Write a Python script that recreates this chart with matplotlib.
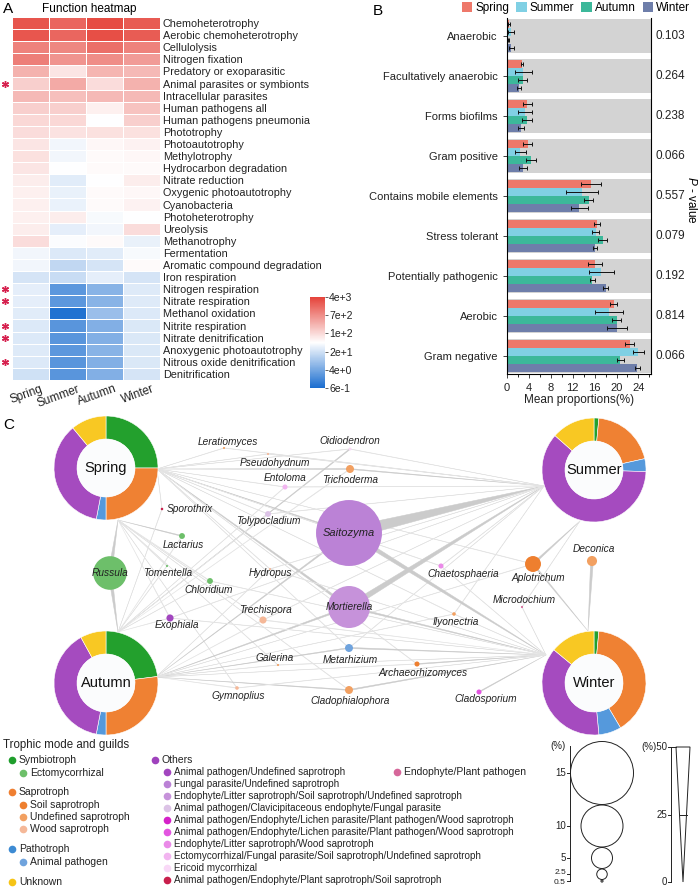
import numpy as np
import matplotlib
matplotlib.use('Agg')
import matplotlib.pyplot as plt
from matplotlib.colors import LinearSegmentedColormap, LogNorm
from matplotlib.cm import ScalarMappable
from matplotlib.patches import Wedge, Circle, Polygon, Patch
from matplotlib.ticker import MultipleLocator, NullLocator
import matplotlib.transforms as mtrans

plt.rcParams['font.family'] = ['Liberation Sans', 'DejaVu Sans']
plt.rcParams['mathtext.fontset'] = 'custom'
plt.rcParams['mathtext.it'] = 'Liberation Sans:italic'
plt.rcParams['mathtext.rm'] = 'Liberation Sans'

# ----------------------------- DATA -----------------------------
seasons = ['Spring', 'Summer', 'Autumn', 'Winter']

functions = ['Chemoheterotrophy', 'Aerobic chemoheterotrophy', 'Cellulolysis', 'Nitrogen fixation',
             'Predatory or exoparasitic', 'Animal parasites or symbionts', 'Intracellular parasites',
             'Human pathogens all', 'Human pathogens pneumonia', 'Phototrophy', 'Photoautotrophy',
             'Methylotrophy', 'Hydrocarbon degradation', 'Nitrate reduction', 'Oxygenic photoautotrophy',
             'Cyanobacteria', 'Photoheterotrophy', 'Ureolysis', 'Methanotrophy', 'Fermentation',
             'Aromatic compound degradation', 'Iron respiration', 'Nitrogen respiration',
             'Nitrate respiration', 'Methanol oxidation', 'Nitrite respiration', 'Nitrate denitrification',
             'Anoxygenic photoautotrophy', 'Nitrous oxide denitrification', 'Denitrification']
heat_spring = [2600, 2500, 900, 1000, 300, 150, 250, 150, 120, 110, 90, 100, 90, 75, 70, 70, 70, 75, 110,
               38, 38, 22, 30, 30, 28, 25, 25, 26, 25, 20]
heat_summer = [1800, 1700, 800, 600, 90, 350, 220, 150, 120, 95, 38, 38, 48, 28, 32, 33, 75, 30, 45,
               25, 15, 17, 2.2, 2.2, 0.7, 2.0, 2.0, 2.2, 2.0, 2.0]
heat_autumn = [3200, 3000, 1400, 700, 280, 110, 250, 70, 48, 100, 60, 55, 55, 48, 55, 55, 42, 38, 55,
               28, 22, 30, 5, 5, 7, 4.5, 4.5, 5, 4.5, 4.5]
heat_winter = [2300, 2200, 900, 500, 250, 300, 250, 200, 150, 100, 65, 60, 55, 75, 60, 65, 48, 110, 32,
               42, 55, 22, 26, 26, 25, 24, 24, 24, 24, 22]
sig_functions = ['Animal parasites or symbionts', 'Nitrogen respiration', 'Nitrate respiration',
                 'Nitrite respiration', 'Nitrate denitrification', 'Nitrous oxide denitrification']
cbar_ticks = [4000, 693, 119, 20.4, 3.5, 0.6]
cbar_ticklabels = ['4e+3', '7e+2', '1e+2', '2e+1', '4e+0', '6e-1']

phenotypes = ['Anaerobic', 'Facultatively anaerobic', 'Forms biofilms', 'Gram positive',
              'Contains mobile elements', 'Stress tolerant', 'Potentially pathogenic', 'Aerobic',
              'Gram negative']
pheno_spring = [0.3, 2.8, 3.7, 3.8, 15.3, 16.4, 16.1, 19.5, 22.4]
pheno_spring_err = [0.2, 0.2, 0.8, 0.8, 1.8, 0.5, 1.3, 0.6, 0.8]
pheno_summer = [0.7, 3.0, 3.3, 2.4, 13.7, 16.2, 17.2, 18.6, 24.0]
pheno_summer_err = [0.5, 1.6, 1.3, 1.0, 3.0, 0.6, 2.3, 2.5, 1.0]
pheno_autumn = [0.2, 2.9, 3.6, 4.4, 14.9, 17.5, 15.6, 20.0, 20.7]
pheno_autumn_err = [0.1, 0.8, 0.9, 0.9, 0.8, 0.8, 0.5, 0.8, 0.6]
pheno_winter = [0.8, 2.2, 2.6, 2.9, 13.2, 16.1, 18.0, 20.1, 23.8]
pheno_winter_err = [0.5, 0.4, 0.5, 0.7, 1.6, 0.4, 0.4, 1.8, 0.4]
p_values = ['0.103', '0.264', '0.238', '0.066', '0.557', '0.079', '0.192', '0.814', '0.066']

trophic_modes = ['Symbiotroph', 'Saprotroph', 'Pathotroph', 'Others', 'Unknown']
comp_spring = [25, 25, 3, 36, 11]
comp_summer = [1.5, 20, 4, 61, 13.5]
comp_autumn = [23, 27, 3, 39, 8]
comp_winter = [1.5, 40, 7, 37.5, 14]

genera = ['Saitozyma', 'Mortierella', 'Russula', 'Aplotrichum', 'Deconica', 'Trichoderma', 'Metarhizium',
          'Cladophialophora', 'Trechispora', 'Exophiala', 'Lactarius', 'Chloridium', 'Tolypocladium',
          'Entoloma', 'Chaetosphaeria', 'Archaeorhizomyces', 'Cladosporium', 'Ilyonectria', 'Gymnoplius',
          'Oidiodendron', 'Sporothrix', 'Leratiomyces', 'Pseudohydnum', 'Tomentella', 'Hydropus',
          'Galerina', 'Microdochium']
genus_abund = [15.7, 10.0, 8.0, 3.8, 2.4, 1.9, 1.9, 1.9, 1.7, 1.7, 1.4, 1.4, 1.4, 1.2, 1.2, 1.2, 1.2,
               0.85, 0.85, 0.7, 0.6, 0.5, 0.5, 0.5, 0.5, 0.5, 0.5]
genus_guild = ['FP/US', 'E/LS/SS/US', 'ECM', 'SS', 'US', 'US', 'AP', 'US', 'WS', 'AP/US', 'ECM', 'ECM',
               'AP/CE/FP', 'ECM/FP/SS/US', 'E/LS/WS', 'SS', 'AP/E/LP/PP/WS2', 'US', 'WS', 'EricM',
               'AP/E/PS/SS', 'US', 'WS', 'ECM', 'WS', 'US', 'E/PP']

edge_season = (['Spring'] * 24 + ['Autumn'] * 21 + ['Summer'] * 16 + ['Winter'] * 17)
edge_genus = ['Russula', 'Mortierella', 'Saitozyma', 'Trichoderma', 'Entoloma', 'Leratiomyces',
              'Pseudohydnum', 'Oidiodendron', 'Sporothrix', 'Tolypocladium', 'Lactarius', 'Tomentella',
              'Chloridium', 'Exophiala', 'Hydropus', 'Trechispora', 'Galerina', 'Metarhizium',
              'Cladophialophora', 'Archaeorhizomyces', 'Aplotrichum', 'Chaetosphaeria', 'Ilyonectria',
              'Gymnoplius',
              'Russula', 'Oidiodendron', 'Trichoderma', 'Saitozyma', 'Mortierella', 'Exophiala',
              'Chloridium', 'Tomentella', 'Lactarius', 'Trechispora', 'Galerina', 'Gymnoplius',
              'Metarhizium', 'Cladophialophora', 'Tolypocladium', 'Hydropus', 'Archaeorhizomyces',
              'Ilyonectria', 'Sporothrix', 'Aplotrichum', 'Entoloma',
              'Saitozyma', 'Mortierella', 'Trichoderma', 'Oidiodendron', 'Aplotrichum', 'Chaetosphaeria',
              'Ilyonectria', 'Microdochium', 'Entoloma', 'Pseudohydnum', 'Leratiomyces', 'Tolypocladium',
              'Hydropus', 'Trechispora', 'Metarhizium', 'Exophiala',
              'Saitozyma', 'Mortierella', 'Aplotrichum', 'Deconica', 'Metarhizium', 'Cladophialophora',
              'Archaeorhizomyces', 'Cladosporium', 'Ilyonectria', 'Microdochium', 'Chaetosphaeria',
              'Trechispora', 'Exophiala', 'Galerina', 'Gymnoplius', 'Hydropus', 'Chloridium']
edge_weight = [14, 8, 4, 3, 1.5, 1, 1, 1, 1, 1.5, 3, 2, 2, 2, 1, 1.5, 1, 1.5, 1.5, 1, 1, 1, 1, 1,
               14, 3, 2, 5, 6, 2, 1.5, 1.5, 2, 2, 1.5, 2, 3, 3, 1.5, 1, 1, 1, 1, 1, 1,
               43, 20, 3, 1.5, 7, 1.5, 1, 1, 1, 1, 1, 1, 1, 1, 1, 1,
               16, 6, 5, 10, 4, 4, 3, 3, 1.5, 1.5, 1.5, 2, 1, 1, 1, 1, 1]

size_legend_values = [15, 10, 5, 2.5, 0.5]
size_legend_labels = ['15', '10', '5', '2.5', '0.5']
width_legend_labels = ['(%)50', '25', '0']

# ----------------------------- STYLE / LAYOUT -----------------------------
W, H = 700, 890
fig = plt.figure(figsize=(7, 8.9), dpi=100)


def fbox(x0, y0, x1, y1):
    return [x0 / W, 1 - y1 / H, (x1 - x0) / W, (y1 - y0) / H]


season_colors = ['#ee786a', '#80d0e4', '#3cb89a', '#6e7eaa']
donut_colors = ['#23a02d', '#ef8133', '#5599dc', '#a54bbf', '#f8c823']
guild_color = {
    'ECM': '#6dbf6a', 'SS': '#ee7f2f', 'US': '#f2a061', 'WS': '#f5b898', 'AP': '#6fa3dd',
    'AP/US': '#a246bf', 'FP/US': '#bb82d6', 'E/LS/SS/US': '#c692da', 'AP/CE/FP': '#dcc3e6',
    'AP/E/LP/PP/WS1': '#d521c9', 'AP/E/LP/PP/WS2': '#e255e0', 'E/LS/WS': '#ea8ae8',
    'ECM/FP/SS/US': '#f2b5f0', 'EricM': '#f9d9f7', 'AP/E/PS/SS': '#c81f4c', 'E/PP': '#d6679a',
}

# ------------------ background pixel-space axes (panel C) ------------------
axc = fig.add_axes([0, 0, 1, 1])
axc.set_xlim(0, W)
axc.set_ylim(H, 0)
axc.axis('off')

axc.text(3, 9, 'A', fontsize=11, va='center', ha='left')
axc.text(42, 9, 'Function heatmap', fontsize=8.5, va='center', ha='left')
axc.text(373, 11, 'B', fontsize=11, va='center', ha='left')
axc.text(3, 425, 'C', fontsize=11, va='center', ha='left')

# ----------------------------- Panel A -----------------------------
cmap = LinearSegmentedColormap.from_list('bwr_c', ['#1a6dcf', '#ffffff', '#e5433a'])
norm = LogNorm(vmin=0.6, vmax=4000)
axA = fig.add_axes(fbox(12, 17, 160, 380))
vals = np.array([heat_spring, heat_summer, heat_autumn, heat_winter], float).T
axA.pcolormesh(vals, cmap=cmap, norm=norm, edgecolors='white', linewidth=0.7)
nf = len(functions)
axA.set_xlim(0, 4)
axA.set_ylim(nf, 0)
axA.set_yticks(np.arange(nf) + 0.5)
axA.set_yticklabels(functions, fontsize=7.8, color='#222222')
axA.yaxis.tick_right()
axA.tick_params(axis='y', length=0, pad=2)
axA.set_xticks([])
for s in axA.spines.values():
    s.set_visible(False)
for i, s in enumerate(seasons):
    axA.text(i + 0.77, nf + 0.25, s, rotation=20, ha='right', va='top', rotation_mode='anchor',
             fontsize=8.5, color='#222222')
trA = mtrans.blended_transform_factory(axA.transAxes, axA.transData)
for f in sig_functions:
    k = functions.index(f)
    axA.plot([-0.05], [k + 0.5], marker=(6, 2, 0), color='#d6204e', ms=5, mew=1.0,
             transform=trA, clip_on=False, linestyle='none')

cax = fig.add_axes(fbox(310, 297, 325, 388))
cb = fig.colorbar(ScalarMappable(norm=norm, cmap=cmap), cax=cax)
cb.set_ticks(cbar_ticks)
cb.set_ticklabels(cbar_ticklabels)
cax.yaxis.set_minor_locator(NullLocator())
cb.outline.set_visible(False)
cax.tick_params(labelsize=7.5, length=2, width=0.5, pad=1, colors='#222222')

# ----------------------------- Panel B -----------------------------
axB = fig.add_axes(fbox(507, 18, 651, 374))
n = len(phenotypes)
ypos = np.arange(n)
xmax = 26.3
axB.barh(ypos, xmax, height=0.85, color='#d3d3d3', zorder=0)
series = [(pheno_spring, pheno_spring_err), (pheno_summer, pheno_summer_err),
          (pheno_autumn, pheno_autumn_err), (pheno_winter, pheno_winter_err)]
offsets = [-0.3, -0.1, 0.1, 0.3]
for j, (v, e) in enumerate(series):
    axB.barh(ypos + offsets[j], v, height=0.2, color=season_colors[j], zorder=2)
    axB.errorbar(v, ypos + offsets[j], xerr=e, fmt='none', ecolor='#111111', elinewidth=0.7,
                 capsize=1.5, capthick=0.7, zorder=3)
axB.set_xlim(0, xmax)
axB.set_ylim(n - 1 + 0.45, -0.45)
axB.set_yticks(ypos)
axB.set_yticklabels(phenotypes, fontsize=8, color='#222222')
axB.set_xticks(np.arange(0, 25, 4))
axB.xaxis.set_minor_locator(MultipleLocator(2))
axB.tick_params(axis='both', labelsize=8, length=3, width=0.6, colors='#222222')
axB.tick_params(axis='x', which='minor', length=2, width=0.6)
axB.set_xlabel('Mean proportions(%)', fontsize=8.5, labelpad=1, color='#222222')
axB.spines['top'].set_visible(False)
for k in ['left', 'bottom', 'right']:
    axB.spines[k].set_linewidth(0.8)
trB = mtrans.blended_transform_factory(axB.transAxes, axB.transData)
for i, p in enumerate(p_values):
    axB.text(1.03, i, p, transform=trB, va='center', ha='left', fontsize=8.5, color='#222222')
fig.text(691 / W, 1 - 200 / H, r'$P$ - value', rotation=270, va='center', ha='center', fontsize=8.5)
handles = [Patch(facecolor=c, edgecolor='none') for c in season_colors]
fig.legend(handles, seasons, loc='center', bbox_to_anchor=(576 / W, 1 - 8 / H), ncol=4, frameon=False,
           fontsize=8.5, handlelength=0.9, handleheight=0.9, handletextpad=0.25, columnspacing=0.6,
           borderaxespad=0, borderpad=0)

# ----------------------------- Panel C -----------------------------
R_OUT, R_IN = 52, 29
R_SCALE = 2.1          # node radius (px) per % abundance
W_SCALE = 14 / 50      # edge width (px) per %
season_center = {'Spring': (106, 468), 'Summer': (594, 470), 'Autumn': (106, 683), 'Winter': (594, 683)}
season_anchor = {'Spring': [(157, 469), (118, 520)], 'Summer': [(544, 486), (580, 521)],
                 'Autumn': [(156, 677), (118, 632)], 'Winter': [(546, 655), (588, 631)]}
node_pos = {'Leratiomyces': (224, 448), 'Pseudohydnum': (268, 454), 'Entoloma': (285, 487),
            'Oidiodendron': (350, 449), 'Trichoderma': (350, 469), 'Sporothrix': (162, 509),
            'Tolypocladium': (268, 514), 'Saitozyma': (349, 533), 'Lactarius': (182, 536),
            'Russula': (110, 573), 'Tomentella': (167, 566), 'Chloridium': (210, 581),
            'Hydropus': (270, 569), 'Mortierella': (349, 607), 'Trechispora': (263, 620),
            'Exophiala': (170, 618), 'Galerina': (278, 665), 'Metarhizium': (349, 648),
            'Gymnoplius': (237, 688), 'Cladophialophora': (349, 690), 'Chaetosphaeria': (441, 566),
            'Aplotrichum': (533, 564), 'Deconica': (592, 561), 'Microdochium': (522, 607),
            'Ilyonectria': (454, 614), 'Archaeorhizomyces': (417, 664), 'Cladosporium': (479, 692)}
label_pos = {'Leratiomyces': (228, 442), 'Pseudohydnum': (275, 463), 'Entoloma': (285, 478),
             'Oidiodendron': (350, 441), 'Trichoderma': (350, 480), 'Sporothrix': (190, 509),
             'Tolypocladium': (268, 521), 'Lactarius': (183, 545), 'Tomentella': (168, 573),
             'Chloridium': (209, 590), 'Hydropus': (270, 573), 'Trechispora': (265, 610),
             'Exophiala': (177, 625), 'Galerina': (275, 658), 'Gymnoplius': (238, 696),
             'Metarhizium': (350, 660), 'Cladophialophora': (350, 701), 'Chaetosphaeria': (463, 574),
             'Aplotrichum': (538, 578), 'Deconica': (594, 549), 'Microdochium': (524, 600),
             'Ilyonectria': (456, 622), 'Archaeorhizomyces': (423, 673), 'Cladosporium': (486, 699),
             'Saitozyma': (349, 533), 'Mortierella': (349, 607), 'Russula': (110, 573)}

# edges (tapered: wide at genus, pointed at season)
for s, g, w in zip(edge_season, edge_genus, edge_weight):
    p0 = np.array(node_pos[g], float)
    anchors = [np.array(a, float) for a in season_anchor[s]]
    p1 = min(anchors, key=lambda a: np.hypot(*(a - p0)))
    d = p1 - p0
    nrm = np.array([-d[1], d[0]]) / np.hypot(*d)
    wpx = max(W_SCALE * w, 0.4)
    heavy = w >= 3
    poly = Polygon([p0 + nrm * wpx / 2, p0 - nrm * wpx / 2, p1], closed=True,
                   facecolor='#cbcbcb' if heavy else '#e2e2e2',
                   edgecolor='#cbcbcb' if heavy else '#e4e4e4', lw=0.35, zorder=1)
    axc.add_patch(poly)

# genus nodes
for g, a, gd in zip(genera, genus_abund, genus_guild):
    x, y = node_pos[g]
    axc.add_patch(Circle((x, y), R_SCALE * a, facecolor=guild_color[gd], edgecolor='none', zorder=3))
for g in genera:
    x, y = label_pos[g]
    fs = 8 if g == 'Saitozyma' else 7.3
    axc.text(x, y, g, ha='center', va='center', fontsize=fs, style='italic', color='#222222', zorder=6)

# donuts
comps = {'Spring': comp_spring, 'Summer': comp_summer, 'Autumn': comp_autumn, 'Winter': comp_winter}
for s in seasons:
    cx, cy = season_center[s]
    fr = comps[s]
    tot = float(sum(fr))
    start = -90.0
    for f, c in zip(fr, donut_colors):
        ang = 360.0 * f / tot
        axc.add_patch(Wedge((cx, cy), R_OUT, start, start + ang, width=R_OUT - R_IN, facecolor=c,
                            edgecolor='white', lw=0.4, zorder=5))
        start += ang
    axc.add_patch(Circle((cx, cy), R_IN, facecolor='#fbfcfd', edgecolor='none', zorder=5))
    axc.text(cx, cy, s, ha='center', va='center', fontsize=10.5, zorder=6, color='#111111')

# ----------------------------- Legends (bottom) -----------------------------
axc.text(3, 745, 'Trophic mode and guilds', fontsize=8.3, va='center', ha='left', color='#222222')
left_items = [('Symbiotroph', '#1f9e2c', 12, 760), ('Ectomycorrhizal', guild_color['ECM'], 23, 773),
              ('Saprotroph', '#ef7f31', 12, 792), ('Soil saprotroph', guild_color['SS'], 23, 805),
              ('Undefined saprotroph', guild_color['US'], 23, 817),
              ('Wood saprotroph', guild_color['WS'], 23, 829),
              ('Pathotroph', '#3d8bd3', 12, 849), ('Animal pathogen', guild_color['AP'], 23, 862),
              ('Unknown', '#f6c416', 12, 882), ('Others', '#9f42bd', 155, 760),
              ('Endophyte/Plant pathogen', guild_color['E/PP'], 397, 772)]
for lab, col, x, y in left_items:
    axc.plot([x], [y], 'o', color=col, ms=5.5, mec='none')
    axc.text(x + 7, y, lab, fontsize=7.5, va='center', ha='left', color='#222222')
others_items = [('Animal pathogen/Undefined saprotroph', 'AP/US'),
                ('Fungal parasite/Undefined saprotroph', 'FP/US'),
                ('Endophyte/Litter saprotroph/Soil saprotroph/Undefined saprotroph', 'E/LS/SS/US'),
                ('Animal pathogen/Clavicipitaceous endophyte/Fungal parasite', 'AP/CE/FP'),
                ('Animal pathogen/Endophyte/Lichen parasite/Plant pathogen/Wood saprotroph', 'AP/E/LP/PP/WS1'),
                ('Animal pathogen/Endophyte/Lichen parasite/Plant pathogen/Wood saprotroph', 'AP/E/LP/PP/WS2'),
                ('Endophyte/Litter saprotroph/Wood saprotroph', 'E/LS/WS'),
                ('Ectomycorrhizal/Fungal parasite/Soil saprotroph/Undefined saprotroph', 'ECM/FP/SS/US'),
                ('Ericoid mycorrhizal', 'EricM'),
                ('Animal pathogen/Endophyte/Plant saprotroph/Soil saprotroph', 'AP/E/PS/SS')]
for k, (lab, key) in enumerate(others_items):
    y = 772 + 12 * k
    axc.plot([167], [y], 'o', color=guild_color[key], ms=5.5, mec='none')
    axc.text(174, y, lab, fontsize=7.1, va='center', ha='left', color='#222222')

# node-size legend
ax_x = 570
circ_cx = 602
y_cursor = 741.5
centers = []
for v in size_legend_values:
    r = R_SCALE * v
    cy = y_cursor + r
    centers.append(cy)
    axc.add_patch(Circle((circ_cx, cy), r, facecolor='none', edgecolor='#222222', lw=0.7))
    y_cursor = cy + r + 0.5
axc.plot([ax_x, ax_x], [746, centers[-1]], color='#222222', lw=0.7)
label_nudge = [0, 0, 0, -1.5, 1.5]
for cy, lab, dy in zip(centers, size_legend_labels, label_nudge):
    axc.plot([ax_x - 3, ax_x], [cy, cy], color='#222222', lw=0.7)
    fs = 7 if dy == 0 else 6
    axc.text(ax_x - 4, cy + dy, lab, fontsize=fs, va='center', ha='right', color='#222222')
axc.text(ax_x - 4, 746, '(%)', fontsize=7, va='center', ha='right', color='#222222')

# edge-width legend
wx = 671
y50, y0 = 747, 882
axc.plot([wx, wx], [y50, y0], color='#222222', lw=0.7)
tri_l, tri_r = 676, 690
tri_c = (tri_l + tri_r) / 2
axc.add_patch(Polygon([(tri_l, y50), (tri_r, y50), (tri_c, y0)], closed=True, facecolor='white',
                      edgecolor='#222222', lw=0.7))
y25 = (y50 + y0) / 2
half = (tri_r - tri_l) / 4
axc.plot([wx, tri_l], [y50, y50], color='#222222', lw=0.7)
axc.plot([tri_c - half, tri_c + half], [y25, y25], color='#222222', lw=0.7)
for yy, lab in zip([y50, y25, y0], width_legend_labels):
    axc.plot([wx - 3, wx], [yy, yy], color='#222222', lw=0.7)
    axc.text(wx - 4, yy, lab, fontsize=7, va='center', ha='right', color='#222222')

fig.savefig('out.png', dpi=100)
